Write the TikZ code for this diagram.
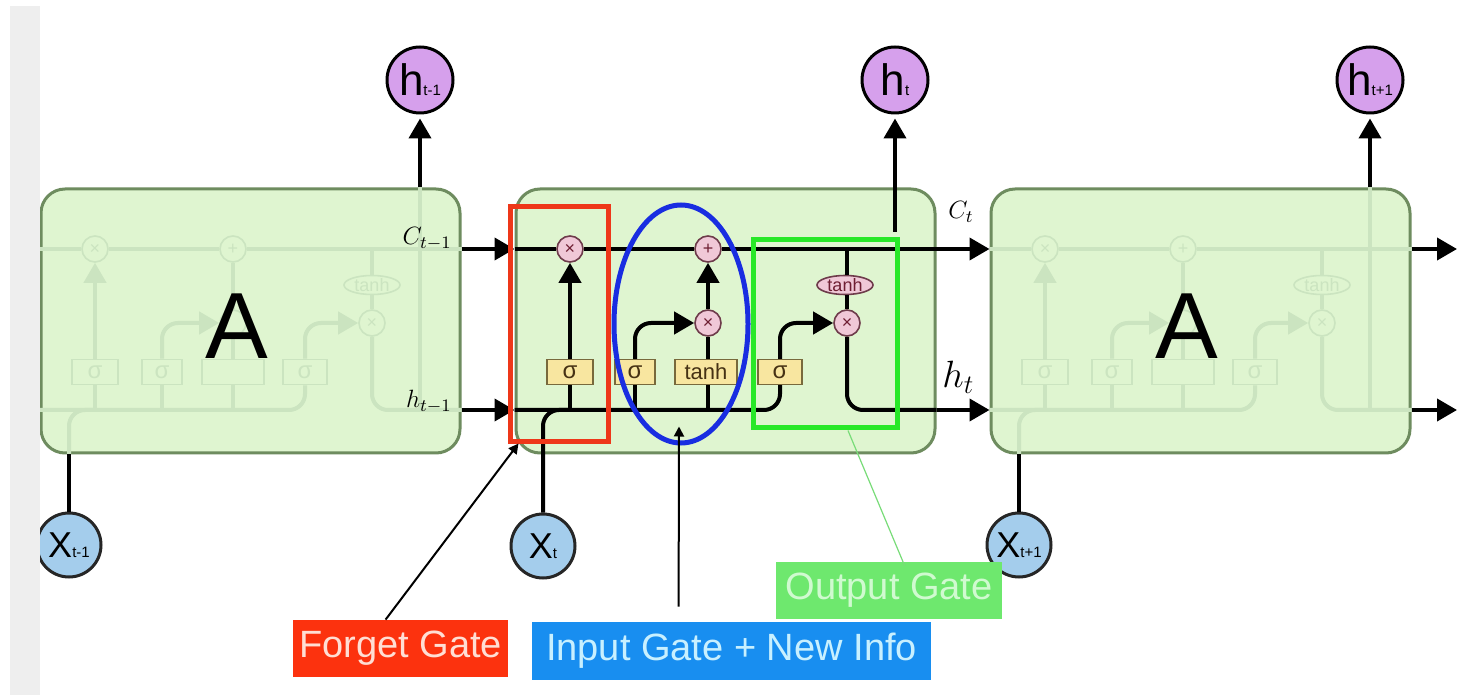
\RequirePackage{fix-cm}
\documentclass[tikz,border=0pt]{standalone}
\usepackage[no-math]{fontspec}
\setmainfont{Liberation Sans}
\usetikzlibrary{arrows.meta,shapes.geometric}

\definecolor{boxfill}{RGB}{223,245,208}
\definecolor{boxedge}{RGB}{110,140,95}
\definecolor{fadeline}{RGB}{203,228,192}
\definecolor{gatefill}{RGB}{248,230,160}
\definecolor{gateedge}{RGB}{120,105,60}
\definecolor{gatetext}{RGB}{70,50,20}
\definecolor{opfill}{RGB}{240,200,215}
\definecolor{opedge}{RGB}{110,60,75}
\definecolor{optext}{RGB}{110,30,50}
\definecolor{hfill}{RGB}{214,160,236}
\definecolor{xfill}{RGB}{164,205,236}
\definecolor{fgred}{RGB}{252,50,14}
\definecolor{fgtext}{RGB}{255,222,212}
\definecolor{igblue}{RGB}{24,142,240}
\definecolor{igtext}{RGB}{200,240,255}
\definecolor{oggreen}{RGB}{110,232,110}
\definecolor{ogtext}{RGB}{208,250,208}
\definecolor{redline}{RGB}{238,55,25}
\definecolor{blueline}{RGB}{25,45,225}
\definecolor{greenline}{RGB}{40,232,40}
\definecolor{stripgray}{RGB}{238,238,238}
\definecolor{leadgreen}{RGB}{120,220,120}

\newcommand{\hlab}[1]{{\fontsize{22}{22}\selectfont h}{\fontsize{7.5}{7.5}\selectfont #1}}
\newcommand{\xlab}[1]{{\fontsize{18}{18}\selectfont X}{\fontsize{7.5}{7.5}\selectfont #1}}

% faded LSTM cell: #1 prefix, #2 x subscript, #3 h subscript
\newcommand{\fadedcell}[3]{%
  \node[cellbox] (#1box) at (250.5,321) {};
  \node[fop] (#1fx) at (95,249) {×};
  \node[fop] (#1pl) at (233,249) {+};
  \node[fop] (#1ix) at (233,323) {};
  \node[fop] (#1ox) at (372,323) {×};
  \node[fell] (#1th) at (372,285) {tanh};
  \node[fgate,minimum width=23pt] (#1sf) at (95,372) {σ};
  \node[fgate,minimum width=20pt] (#1si) at (162,372) {σ};
  \node[fgate,minimum width=31pt] (#1tb) at (233,372) {};
  \node[fgate,minimum width=22pt] (#1so) at (305,372) {σ};
  \node[xcirc] (#1xin) at (69,545) {\xlab{#2}};
  \node[hcirc] (#1h) at (420,80) {\hlab{#3}};
  \draw[fl] (#1box.west|-cy) -- (#1fx) -- (#1pl) -- (#1box.east|-cy);
  \draw[fl] (#1sf|-hy) -- (#1sf);
  \draw[fl,farr] (#1sf) -- (#1fx);
  \draw[fl] (#1si|-hy) -- (#1si);
  \draw[fl,farr,rounded corners=8pt] (#1si.north) |- (#1ix);
  \draw[fl] (#1tb|-hy) -- (#1tb);
  \draw[fl] (#1tb) -- (#1ix);
  \draw[fl] (#1ix) -- (#1pl);
  \draw[fl,rounded corners=8pt] (#1box.west|-hy) -- (#1so|-hy) -- (#1so.south);
  \draw[fl,farr,rounded corners=8pt] (#1so.north) |- (#1ox);
  \draw[fl] (#1th|-cy) -- (#1th);
  \draw[fl] (#1th) -- (#1ox);
  \draw[fl,rounded corners=8pt] (#1ox) |- (#1box.east|-hy);
  \draw[fl] (#1h|-hy) -- (#1h|-#1box.north);
  \draw[fl,rounded corners=8pt] (#1xin|-#1box.south) |- (#1sf|-hy);
  \draw[main] (#1xin) -- (#1xin|-#1box.south);
  \draw[main,arr,shorten >=2pt] (#1box.north-|#1h) -- (#1h);
  \node[bigA] (#1A) at (237,326) {A};
}

\begin{document}
\begin{tikzpicture}[x=0.5pt,y=-0.5pt,
  cellbox/.style={draw=boxedge,fill=boxfill,line width=1.5pt,rounded corners=12pt,
    minimum width=209.5pt,minimum height=132pt,inner sep=0pt},
  main/.style={line width=2pt,draw=black},
  arr/.style={-{Triangle[length=10pt,width=11pt]}},
  fl/.style={line width=2pt,draw=fadeline},
  farr/.style={-{Triangle[length=10pt,width=11pt]}},
  gatebox/.style={draw=gateedge,fill=gatefill,line width=0.6pt,minimum height=12.5pt,
    inner sep=0pt,font=\fontsize{12}{12}\selectfont,text=gatetext},
  fgate/.style={draw=fadeline,line width=0.8pt,minimum height=12.5pt,inner sep=0pt,
    font=\fontsize{12}{12}\selectfont,text=fadeline},
  opc/.style={circle,draw=opedge,fill=opfill,line width=0.8pt,minimum size=13pt,
    inner sep=0pt,font=\fontsize{9}{9}\selectfont,text=optext},
  fop/.style={circle,draw=fadeline,line width=0.8pt,minimum size=13pt,
    inner sep=0pt,font=\fontsize{9}{9}\selectfont,text=fadeline},
  thell/.style={ellipse,draw=opedge,fill=opfill,line width=0.8pt,minimum width=28pt,
    minimum height=9.5pt,inner sep=0pt,font=\fontsize{9}{9}\selectfont,text=optext},
  fell/.style={ellipse,draw=fadeline,line width=0.8pt,minimum width=28pt,
    minimum height=9.5pt,inner sep=0pt,font=\fontsize{9}{9}\selectfont,text=fadeline},
  hcirc/.style={circle,draw=black,fill=hfill,line width=1.5pt,minimum size=33pt,inner sep=0pt},
  xcirc/.style={circle,draw=black!85,fill=xfill,line width=1.5pt,minimum size=32pt,inner sep=0pt},
  bigA/.style={inner sep=0pt,font=\fontsize{47}{47}\selectfont},
  mlab/.style={inner sep=0pt,font=\fontsize{12.5}{14}\selectfont},
  lab/.style={inner sep=0pt,font=\fontsize{19}{19}\selectfont},
  lead/.style={line width=1pt,-{Triangle[length=5pt,width=5pt]}},
  leadg/.style={line width=0.6pt,draw=leadgreen},
]
\useasboundingbox (0,0) rectangle (1458,695);
\fill[white] (0,0) rectangle (1458,695);
\coordinate (cy) at (0,249);
\coordinate (hy) at (0,410);

% left and right faded cells
\begin{scope}
  \fadedcell{L}{t-1}{t-1}
\end{scope}
\begin{scope}[shift={(950,0)}]
  \fadedcell{R}{t+1}{t+1}
\end{scope}

% middle, detailed cell
\begin{scope}[shift={(475,0)}]
  \node[cellbox] (Mbox) at (250.5,321) {};
  \node[opc] (Mfx) at (95,249) {×};
  \node[opc] (Mpl) at (233,249) {+};
  \node[opc] (Mix) at (233,323) {×};
  \node[opc] (Mox) at (372,323) {×};
  \node[thell] (Mth) at (370,285) {tanh};
  \node[gatebox,minimum width=23pt] (Msf) at (95,372) {σ};
  \node[gatebox,minimum width=20pt] (Msi) at (160,372) {σ};
  \node[gatebox,minimum width=31pt,font=\fontsize{11}{11}\selectfont] (Mtb) at (231,372) {tanh};
  \node[gatebox,minimum width=22pt] (Mso) at (305,372) {σ};
  \node[xcirc] (Mxin) at (68,546) {\xlab{t}};
  \node[hcirc] (Mh) at (420,80) {\hlab{t}};
  \coordinate (Mhs) at (420,232);
  \draw[main] (Mbox.west|-cy) -- (Mfx) -- (Mpl) -- (Mbox.east|-cy);
  \draw[main] (Msf|-hy) -- (Msf);
  \draw[main,arr] (Msf) -- (Mfx);
  \draw[main] (Msi|-hy) -- (Msi);
  \draw[main,arr,rounded corners=8pt] (Msi.north) |- (Mix);
  \draw[main] (Mix|-hy) -- (Mix|-Mtb.south);
  \draw[main] (Mix|-Mtb.north) -- (Mix);
  \draw[main,arr] (Mix) -- (Mpl);
  \draw[main,rounded corners=8pt] (Mbox.west|-hy) -- (Mso|-hy) -- (Mso.south);
  \draw[main,arr,rounded corners=8pt] (Mso.north) |- (Mox);
  \draw[main] (Mox|-cy) -- (Mox|-Mth.north);
  \draw[main] (Mox|-Mth.south) -- (Mox);
  \draw[main,rounded corners=8pt] (Mox) |- (Mbox.east|-hy);
  \draw[main,rounded corners=8pt] (Mxin) |- (Msf|-hy);
  \draw[main,arr,shorten >=2pt] (Mhs) -- (Mh);
\end{scope}

% connections between cells
\coordinate (cend) at (1457,249);
\coordinate (hend) at (1457,410);
\draw[main,arr] (Lbox.east|-cy) -- (Mbox.west|-cy);
\draw[main,arr] (Lbox.east|-hy) -- (Mbox.west|-hy);
\draw[main,arr] (Mbox.east|-cy) -- (Rbox.west|-cy);
\draw[main,arr] (Mbox.east|-hy) -- (Rbox.west|-hy);
\draw[main,arr] (Rbox.east|-cy) -- (cend);
\draw[main,arr] (Rbox.east|-hy) -- (hend);

% math labels
\node[mlab,anchor=base east] (lCm) at (452,245) {$C_{t-1}$};
\node[mlab,anchor=base east] (lhm) at (452,408) {$h_{t-1}$};
\node[mlab,anchor=base west] (lCt) at (948,219) {$C_t$};
\node[inner sep=0pt,font=\fontsize{19}{21}\selectfont,anchor=base west] (lht) at (942,388) {$h_t$};

% annotations
\node[draw=redline,line width=2.5pt,minimum width=49pt,minimum height=117.5pt,inner sep=0pt] (fgbox) at (559,324.5) {};
\node[ellipse,draw=blueline,line width=2.5pt,minimum width=67pt,minimum height=119pt,inner sep=0pt] (igell) at (681,324) {};
\node[draw=greenline,line width=2.5pt,minimum width=72pt,minimum height=94pt,inner sep=0pt] (ogbox) at (825,334) {};

\node[lab,fill=fgred,text=fgtext,minimum width=107.5pt,minimum height=28.5pt] (fglabel) at (400.5,648.5) {Forget Gate};
\node[lab,fill=igblue,text=igtext,minimum width=199.5pt,minimum height=29pt] (iglabel) at (731.5,651) {Input Gate + New Info};
\node[lab,fill=oggreen,text=ogtext,minimum width=113pt,minimum height=28.5pt] (oglabel) at (889,590.5) {Output Gate};

\draw[lead] ([xshift=46.5pt]fglabel.north west) -- ([xshift=5.5pt,yshift=0.5pt]fgbox.south west);
\draw[lead] ([xshift=73.5pt,yshift=7.5pt]iglabel.north west) -- ([xshift=-1pt,yshift=9.5pt]igell.south);
\draw[leadg] ([xshift=11.5pt]ogbox.south) -- ([xshift=64.5pt,yshift=-2pt]oglabel.north west);

% gray strip at the left
\fill[stripgray] (10,6) rectangle (40,695);
\end{tikzpicture}
\end{document}
